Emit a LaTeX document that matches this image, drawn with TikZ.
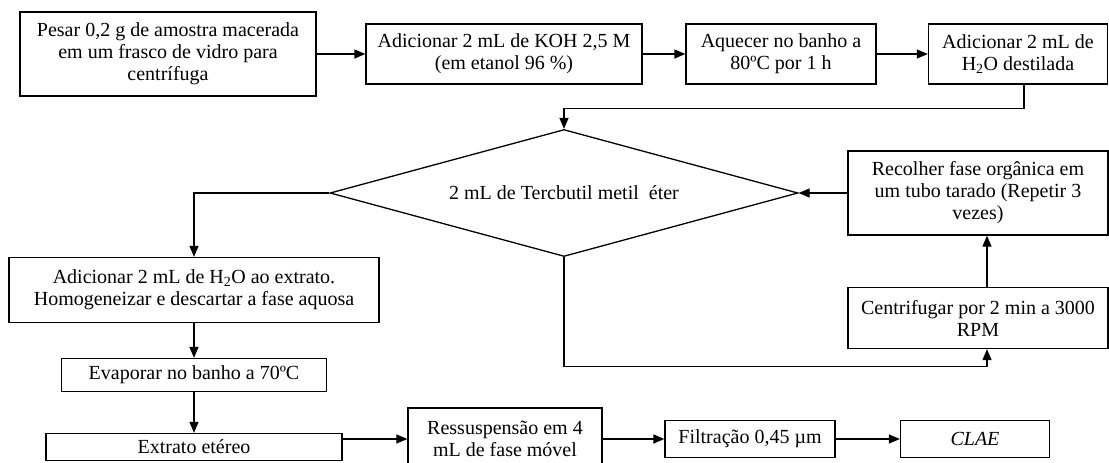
\documentclass[tikz,border=0pt]{standalone}
\usepackage{fontspec}
\setmainfont{Liberation Serif}
\usetikzlibrary{arrows.meta}
\usetikzlibrary{shapes.geometric}
\tikzset{stepbox/.style = {draw, line width=1.3pt, align=center, inner sep=2pt}}
\tikzset{flow/.style = {line width=1.3pt, -{Triangle[length=11pt, width=9pt]}}}
\tikzset{decision/.style = {draw, diamond, line width=1.3pt, inner sep=0, shape aspect=3.7,
                            minimum width=468pt, minimum height=127pt}}

\begin{document}
\begin{tikzpicture}[x=1pt, y=-1pt, font=\fontsize{20}{22}\selectfont]
          \useasboundingbox (0,0) rectangle (1109,463);
          \clip (0,0) rectangle (1109,463);
          \node [stepbox, minimum width=296pt, minimum height=84pt] (pesar) at (168,54)
                {Pesar 0,2 g de amostra macerada\\em um frasco de vidro para\\centrífuga};
          \node [stepbox, minimum width=276pt, minimum height=60pt] (koh) at (504,54)
                {Adicionar 2 mL de KOH 2,5 M\\(em etanol 96 \%)};
          \node [stepbox, minimum width=190pt, minimum height=60pt] (aquecer) at (781,54)
                {Aquecer no banho a\\80ºC por 1 h};
          \node [stepbox, minimum width=179pt, minimum height=60pt] (destilada) at (1018,54)
                {Adicionar 2 mL de\\H\textsubscript{2}O destilada};
          \node [decision] (tbme) at (564,193) {2 mL de Tercbutil metil~ éter};
          \node [stepbox, minimum width=260pt, minimum height=84pt] (recolher) at (978,193)
                {Recolher fase orgânica em\\um tubo tarado (Repetir 3\\vezes)};
          \node [stepbox, minimum width=260pt, minimum height=61pt] (centrif) at (978,318)
                {Centrifugar por 2 min a 3000\\RPM};
          \node [stepbox, minimum width=370pt, minimum height=65pt] (aquosa) at (194,290)
                {Adicionar 2 mL de H\textsubscript{2}O ao extrato.\\Homogeneizar e descartar a fase aquosa};
          \node [stepbox, minimum width=265pt, minimum height=33pt] (evap) at (194,375)
                {Evaporar no banho a 70ºC};
          \node [stepbox, minimum width=296pt, minimum height=27pt] (extrato) at (194,447)
                {Extrato etéreo};
          \node [stepbox, minimum width=194pt, minimum height=62pt] (ressusp) at (505,439)
                {Ressuspensão em 4\\mL de fase móvel};
          \node [stepbox, minimum width=170pt, minimum height=37pt] (filtra) at (750,439)
                {Filtração 0,45 µm};
          \node [stepbox, minimum width=149pt, minimum height=37pt] (clae) at (975,439)
                {\textit{CLAE}};
          \draw [flow] (pesar) -- (koh);
          \draw [flow] (koh) -- (aquecer);
          \draw [flow] (aquecer) -- (destilada);
          \draw [flow] ([xshift=6pt]destilada.south) -- ++(0,24) -| (tbme.north);
          \draw [flow] (tbme.west) -| (aquosa.north);
          \draw [flow] (recolher.west) -- (tbme.east);
          \draw [flow] ([xshift=9pt]centrif.north) -- ([xshift=9pt]recolher.south);
          \draw [flow] (tbme.south) -- ++(0,109) -| ([xshift=9pt]centrif.south);
          \draw [flow] (aquosa) -- (evap);
          \draw [flow] (evap) -- (extrato);
          \draw [flow] (ressusp.west -| extrato.east) -- (ressusp.west);
          \draw [flow] (ressusp) -- (filtra);
          \draw [flow] (filtra) -- (clae);
        \end{tikzpicture}
\end{document}
